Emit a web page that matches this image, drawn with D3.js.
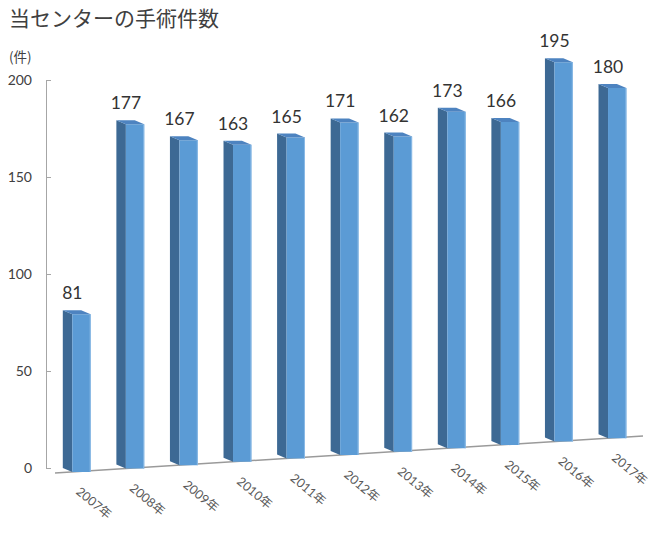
<!DOCTYPE html>
<html>
<head>
<meta charset="utf-8">
<script src="https://cdn.jsdelivr.net/npm/d3@7"></script>
<style>
  html, body { margin: 0; padding: 0; background: #fff; }
  svg { display: block; }
</style>
</head>
<body>
<svg id="chart" width="660" height="537"></svg>
<script>
const title = "当センターの手術件数";
const unitLabel = "(件)";
const years = ["2007年","2008年","2009年","2010年","2011年","2012年","2013年","2014年","2015年","2016年","2017年"];
const counts = [81,177,167,163,165,171,162,173,166,195,180];
const yTicks = [0,50,100,150,200];

const svg = d3.select("#chart");
const font = "Lato, 'Noto Sans CJK JP', sans-serif";
const cjk = "'Noto Sans CJK JP', sans-serif";

// scales
const x = d3.scaleBand().domain(years).range([72.3, 626.4]).paddingInner(0.657).paddingOuter(0);
const y = d3.scaleLinear().domain([0, 200]).range([468, 80]);   // axis (back wall)
const k = 1.945;                                                // px per unit on front plane
const floorY = d3.scaleLinear().domain([55, 643]).range([473, 436]);
const depthX = -9.5, depthY = -4;

// title
svg.append("text").attr("x", 9).attr("y", 26)
  .attr("font-family", cjk).attr("font-size", 21).attr("fill", "#404040")
  .text(title);
svg.append("text").attr("x", 9).attr("y", 62)
  .attr("font-family", cjk).attr("font-size", 13.5).attr("fill", "#404040")
  .text(unitLabel);

// y axis
const yAxis = d3.axisLeft(y).tickValues(yTicks).tickSizeInner(-5).tickSizeOuter(0).tickPadding(14);
const ga = svg.append("g").attr("transform", "translate(46,0)").call(yAxis);
ga.select(".domain").attr("stroke", "#a6a6a6");
ga.selectAll(".tick line").attr("stroke", "#a6a6a6");
ga.selectAll(".tick text").attr("font-family", font).attr("font-size", 14).attr("fill", "#404040");

// floor line
svg.append("line")
  .attr("x1", 55).attr("y1", floorY(55)).attr("x2", 643).attr("y2", floorY(643))
  .attr("stroke", "#9a9a9a").attr("stroke-width", 1.5);

// bars
const data = years.map((yr, i) => ({yr, v: counts[i]}));
const bars = svg.append("g").selectAll("g").data(data).join("g");

bars.each(function(d) {
  const g = d3.select(this);
  const xl = x(d.yr), xr = xl + x.bandwidth();
  const yb = floorY(xl);
  const yt = yb - d.v * k;
  // side
  g.append("path")
    .attr("d", `M${xl},${yt} L${xl+depthX},${yt+depthY} L${xl+depthX},${yb+depthY} L${xl},${yb} Z`)
    .attr("fill", "#3d6994");
  // front
  g.append("path")
    .attr("d", `M${xl},${yt} L${xr},${yt} L${xr},${yb} L${xl},${yb} Z`)
    .attr("fill", "#5b9bd5");
  g.append("line")
    .attr("x1", xr - 0.5).attr("x2", xr - 0.5).attr("y1", yt).attr("y2", yb)
    .attr("stroke", "#8cbbe6").attr("stroke-width", 1);
  // top
  g.append("path")
    .attr("d", `M${xl},${yt} L${xr},${yt} L${xr+depthX},${yt+depthY} L${xl+depthX},${yt+depthY} Z`)
    .attr("fill", "#4d83c0");
  // value label
  g.append("text")
    .attr("x", xl).attr("y", yt - 15)
    .attr("text-anchor", "middle")
    .attr("font-family", font).attr("font-size", 17.5).attr("fill", "#333333")
    .text(d.v);
  // category label
  const lx = xl + 3, ly = yb + 21;
  g.append("text")
    .attr("transform", `translate(${lx},${ly}) rotate(40)`)
    .attr("font-family", font).attr("font-size", 12.5).attr("fill", "#595959")
    .text(d.yr);
});
</script>
</body>
</html>
